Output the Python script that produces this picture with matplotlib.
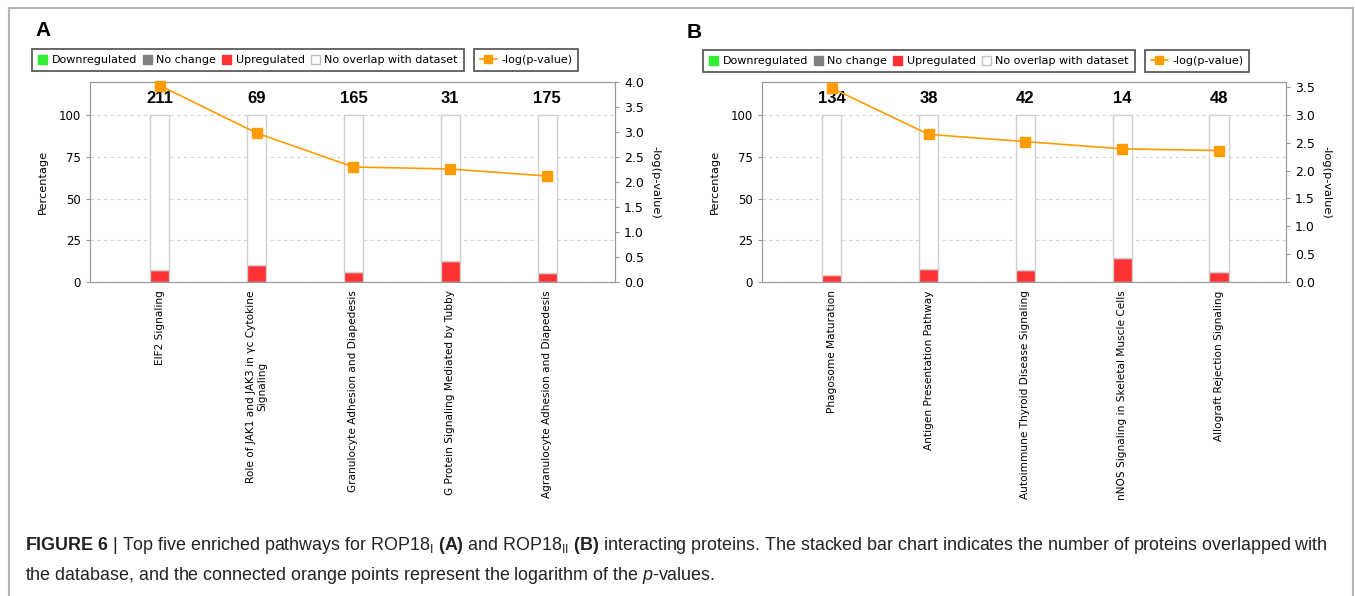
import numpy as np
import matplotlib
matplotlib.use('Agg')
from matplotlib import pyplot as plt
from matplotlib import font_manager
from matplotlib.patches import Patch, Rectangle
from matplotlib.lines import Line2D

# panel A data
paths_a = ['EIF2 Signaling',
           'Role of JAK1 and JAK3 in \u03b3c Cytokine\nSignaling',
           'Granulocyte Adhesion and Diapedesis',
           'G Protein Signaling Mediated by Tubby',
           'Agranulocyte Adhesion and Diapedesis']
counts_a = [211, 69, 165, 31, 175]
up_a = [7.1, 10.1, 6.1, 12.9, 5.7]          # % upregulated
logp_a = [3.93, 2.98, 2.30, 2.26, 2.12]

# panel B data
paths_b = ['Phagosome Maturation',
           'Antigen Presentation Pathway',
           'Autoimmune Thyroid Disease Signaling',
           'nNOS Signaling in Skeletal Muscle Cells',
           'Allograft Rejection Signaling']
counts_b = [134, 38, 42, 14, 48]
up_b = [4.5, 7.9, 7.1, 14.3, 6.2]
logp_b = [3.48, 2.65, 2.52, 2.39, 2.36]

legend_labels = ['Downregulated', 'No change', 'Upregulated', 'No overlap with dataset']
legend_colors = ['#33ee33', '#808080', '#ff3333', 'white']

W, H = 1355, 596
RED = '#ff3333'
ORANGE = '#ff9c00'
SPINE = '#9a9a9a'

names = {f.name for f in font_manager.fontManager.ttflist}
cap_font = 'Liberation Sans Narrow' if 'Liberation Sans Narrow' in names else 'Liberation Sans'
plt.rcParams['font.family'] = ['DejaVu Sans']
plt.rcParams['mathtext.fontset'] = 'custom'
plt.rcParams['mathtext.rm'] = cap_font
plt.rcParams['mathtext.it'] = cap_font + ':italic'
plt.rcParams['mathtext.bf'] = cap_font + ':bold'


def draw_panel(fig, rect, paths, counts, up, logp, ymax2, xlim):
    ax = fig.add_axes(rect)
    x = np.arange(len(paths))
    rest = [100 - u for u in up]
    ax.bar(x, up, width=0.2, color=RED, edgecolor='#cfcfcf', linewidth=1, zorder=2)
    ax.bar(x, rest, bottom=up, width=0.2, color='white', edgecolor='#cfcfcf', linewidth=1, zorder=2)
    for xi, c in zip(x, counts):
        ax.text(xi, 110, str(c), ha='center', va='center', fontsize=12,
                fontweight='bold', family='Liberation Sans')
    ax.set_ylim(0, 120)
    ax.set_xlim(*xlim)
    ax.set_yticks([0, 25, 50, 75, 100])
    ax.yaxis.grid(True, linestyle=(0, (3, 3)), color='#d5d5d5', linewidth=0.8)
    ax.set_axisbelow(True)
    ax.set_xticks(x)
    ax.set_xticklabels(paths, rotation=90, fontsize=7.6, va='top', ha='center',
                       multialignment='center')
    ax.tick_params(axis='x', length=0, pad=6)
    ax.tick_params(axis='y', labelsize=8.5, length=3, color=SPINE)
    ax.set_ylabel('Percentage', fontsize=8.2, labelpad=8)
    for s in ax.spines.values():
        s.set_color(SPINE)

    ax2 = ax.twinx()
    ax2.plot(x, logp, color=ORANGE, marker='s', markersize=7, linewidth=1.2,
             clip_on=False, zorder=5)
    ax2.set_ylim(0, ymax2)
    ticks2 = np.arange(0, ymax2 + 0.01, 0.5)
    ax2.set_yticks(ticks2)
    ax2.set_yticklabels(['%.1f' % v for v in ticks2])
    ax2.tick_params(axis='y', labelsize=9, length=3, color=SPINE)
    ax2.set_ylabel('-log(p-value)', fontsize=8.2, rotation=270, labelpad=12)
    for s in ax2.spines.values():
        s.set_color(SPINE)
    return ax


def add_legends(fig, x0, y0):
    handles = [Patch(facecolor=c, edgecolor='#c0c0c0' if c == 'white' else c)
               for c in legend_colors]
    leg1 = fig.legend(handles, legend_labels, loc='upper left',
                      bbox_to_anchor=(x0 / W, 1 - y0 / H), ncol=4, fontsize=8,
                      frameon=True, fancybox=False, edgecolor='#333333',
                      borderpad=0.55, handlelength=0.8, handleheight=0.8,
                      handletextpad=0.4, columnspacing=0.55, borderaxespad=0)
    leg1.get_frame().set_linewidth(1.3)
    line = Line2D([], [], color=ORANGE, marker='s', markersize=6, linewidth=1.2)
    leg2 = fig.legend([line], ['-log(p-value)'], loc='upper left',
                      bbox_to_anchor=((x0 + 442) / W, 1 - y0 / H), fontsize=8,
                      frameon=True, fancybox=False, edgecolor='#333333',
                      borderpad=0.55, handlelength=1.5, handletextpad=0.4,
                      borderaxespad=0)
    leg2.get_frame().set_linewidth(1.3)


def main():
    fig = plt.figure(figsize=(W / 100, H / 100), dpi=100)

    draw_panel(fig, [90 / W, 1 - 282 / H, (615 - 90) / W, 200 / H],
               paths_a, counts_a, up_a, logp_a, 4.0, (-0.72, 4.7))
    draw_panel(fig, [762 / W, 1 - 282 / H, (1286 - 762) / W, 200 / H],
               paths_b, counts_b, up_b, logp_b, 3.59, (-0.72, 4.69))

    add_legends(fig, 32, 49)
    add_legends(fig, 703, 50)

    fig.text(35 / W, 1 - 31 / H, 'A', fontsize=15, fontweight='bold',
             family='Liberation Sans', va='center', ha='left')
    fig.text(687 / W, 1 - 33 / H, 'B', fontsize=15, fontweight='bold',
             family='Liberation Sans', va='center', ha='left')

    # outer frame
    fig.add_artist(Rectangle((9 / W, -0.05), (1353 - 9) / W, 1.05 - 8 / H,
                             transform=fig.transFigure, fill=False,
                             edgecolor='#b5b5b5', linewidth=1.5))

    line1 = (r'$\bf{FIGURE\ 6}$ | Top five enriched pathways for ROP18$_{\rm I}$ '
             r'$\bf{(A)}$ and ROP18$_{\rm II}$ $\bf{(B)}$ interacting proteins. '
             'The stacked bar chart indicates the number of proteins overlapped with')
    line2 = (r'the database, and the connected orange points represent the '
             r'logarithm of the $\it{p}$-values.')
    fig.text(25 / W, 1 - 546 / H, line1, fontsize=12.9, family=cap_font,
             va='center', ha='left', color='#222222')
    fig.text(25 / W, 1 - 576 / H, line2, fontsize=12.9, family=cap_font,
             va='center', ha='left', color='#222222')

    fig.savefig('out.png', dpi=100)


if __name__ == '__main__':
    main()
